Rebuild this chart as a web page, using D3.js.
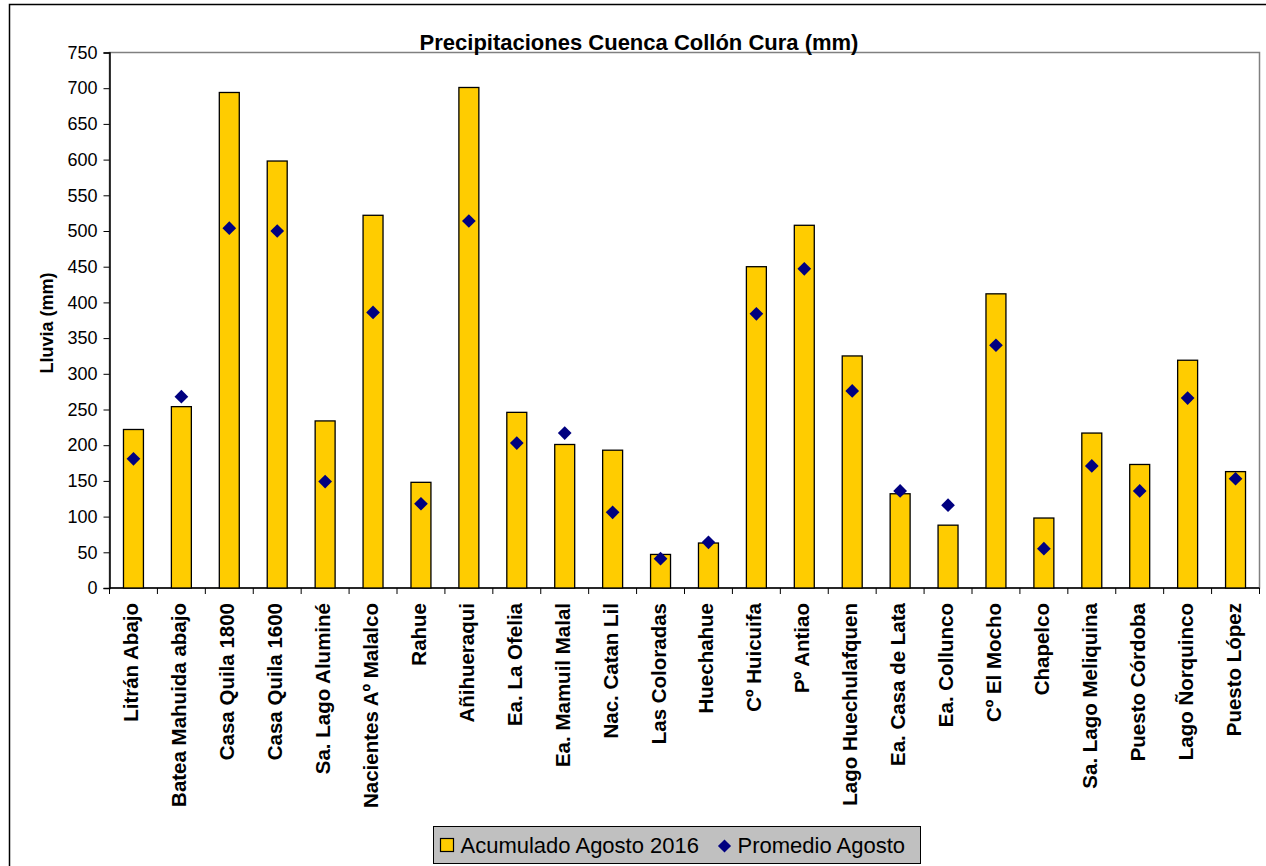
<!DOCTYPE html>
<html>
<head>
<meta charset="utf-8">
<script src="https://cdn.jsdelivr.net/npm/d3@7/dist/d3.min.js"></script>
<style>
  html, body { margin: 0; padding: 0; background: #fff; }
  svg { display: block; font-family: "Liberation Sans", Arial, sans-serif; }
</style>
</head>
<body>
<svg id="chart" width="1266" height="866"></svg>
<script>
// estaciones y valores (mm)
var estaciones = [
  "Litrán Abajo", "Batea Mahuida abajo", "Casa Quila 1800", "Casa Quila 1600",
  "Sa. Lago Aluminé", "Nacientes Aº Malalco", "Rahue", "Añihueraqui",
  "Ea. La Ofelia", "Ea. Mamuil Malal", "Nac. Catan Lil", "Las Coloradas",
  "Huechahue", "Cº Huicuifa", "Pº Antiao", "Lago Huechulafquen",
  "Ea. Casa de Lata", "Ea. Collunco", "Cº El Mocho", "Chapelco",
  "Sa. Lago Meliquina", "Puesto Córdoba", "Lago Ñorquinco", "Puesto López"
];
var acumulado = [222, 254, 694, 598, 234, 522, 148, 701, 246, 201, 193, 47,
                 63, 450, 508, 325, 132, 88, 412, 98, 217, 173, 319, 163];
var promedio = [181, 268, 504, 500, 149, 386, 118, 514, 203, 217, 106, 41,
                64, 384, 447, 276, 136, 116, 340, 55, 171, 136, 266, 153];
var yTicks = d3.range(0, 751, 50);

var svg = d3.select("#chart"),
    plotLeft = 109.5, plotRight = 1259.5, plotTop = 52.5, plotBottom = 588;

// borde exterior del grafico
svg.append("rect")
    .attr("x", 9.5).attr("y", 4.5)
    .attr("width", 1300).attr("height", 900)
    .attr("fill", "none").attr("stroke", "#000").attr("stroke-width", 1.5);

var x = d3.scaleBand()
    .domain(estaciones)
    .range([plotLeft, plotRight])
    .paddingInner(1.4 / 2.4)
    .paddingOuter(0.7 / 2.4);
var step = x.step();

var y = d3.scaleLinear().domain([0, 750]).range([plotBottom, plotTop]);

// marco del area de trazado
svg.append("rect")
    .attr("x", plotLeft).attr("y", plotTop)
    .attr("width", plotRight - plotLeft).attr("height", plotBottom - plotTop)
    .attr("fill", "#fff").attr("stroke", "#808080").attr("stroke-width", 1.5);

// titulo
svg.append("text")
    .attr("x", 639).attr("y", 50)
    .attr("text-anchor", "middle")
    .attr("font-size", 22).attr("font-weight", "bold")
    .text("Precipitaciones Cuenca Collón Cura (mm)");

// eje Y
var yAxis = svg.append("g")
    .attr("transform", "translate(" + plotLeft + ",0)")
    .call(d3.axisLeft(y).tickValues(yTicks).tickSize(6).tickPadding(6));
yAxis.select(".domain").attr("stroke", "#000").attr("stroke-width", 1.5);
yAxis.selectAll(".tick line").attr("stroke", "#000");
yAxis.selectAll(".tick text")
    .attr("font-size", 18).attr("fill", "#000")
    .attr("font-family", "Liberation Sans, Arial, sans-serif");

svg.append("text")
    .attr("transform", "translate(53,323) rotate(-90)")
    .attr("text-anchor", "middle")
    .attr("font-size", 18).attr("font-weight", "bold")
    .text("Lluvia (mm)");

// eje X: marcas entre categorias
var bounds = d3.range(estaciones.length + 1).map(function(i) { return plotLeft + i * step; });
svg.append("line")
    .attr("x1", plotLeft).attr("x2", plotRight)
    .attr("y1", plotBottom).attr("y2", plotBottom)
    .attr("stroke", "#000").attr("stroke-width", 1.5);
svg.selectAll("line.xtick")
    .data(bounds)
    .enter().append("line")
        .attr("class", "xtick")
        .attr("x1", function(d) { return d; })
        .attr("x2", function(d) { return d; })
        .attr("y1", plotBottom)
        .attr("y2", plotBottom + 6)
        .attr("stroke", "#000");

svg.selectAll("text.xlab")
    .data(estaciones)
    .enter().append("text")
        .attr("class", "xlab")
        .attr("transform", function(d) {
            return "translate(" + (x(d) + x.bandwidth() / 2 + 5) + "," + (plotBottom + 15) + ") rotate(-90)";
        })
        .attr("text-anchor", "end")
        .attr("font-size", 20.5).attr("font-weight", "bold")
        .text(function(d) { return d; });

// barras
svg.selectAll("rect.bar")
    .data(acumulado)
    .enter().append("rect")
        .attr("class", "bar")
        .attr("x", function(d, i) { return x(estaciones[i]); })
        .attr("y", function(d) { return y(d); })
        .attr("width", x.bandwidth())
        .attr("height", function(d) { return plotBottom - y(d); })
        .attr("fill", "#ffcc00")
        .attr("stroke", "#000").attr("stroke-width", 1.3);

// promedio: rombos
var diamond = d3.symbol().type(d3.symbolDiamond2).size(120);
svg.selectAll("path.prom")
    .data(promedio)
    .enter().append("path")
        .attr("class", "prom")
        .attr("d", diamond)
        .attr("transform", function(d, i) {
            return "translate(" + (x(estaciones[i]) + x.bandwidth() / 2) + "," + y(d) + ")";
        })
        .attr("fill", "#000080");

// leyenda
var leg = svg.append("g").attr("transform", "translate(433.5,826.5)");
leg.append("rect")
    .attr("width", 487).attr("height", 37)
    .attr("fill", "#c0c0c0").attr("stroke", "#000").attr("stroke-width", 1);
leg.append("rect")
    .attr("x", 7).attr("y", 12).attr("width", 13).attr("height", 13)
    .attr("fill", "#ffcc00").attr("stroke", "#000").attr("stroke-width", 1.2);
leg.append("text")
    .attr("x", 27).attr("y", 26)
    .attr("font-size", 22)
    .text("Acumulado Agosto 2016");
leg.append("path")
    .attr("d", d3.symbol().type(d3.symbolDiamond2).size(110))
    .attr("transform", "translate(291,19.5)")
    .attr("fill", "#000080");
leg.append("text")
    .attr("x", 304).attr("y", 26)
    .attr("font-size", 22)
    .text("Promedio Agosto");
</script>
</body>
</html>
